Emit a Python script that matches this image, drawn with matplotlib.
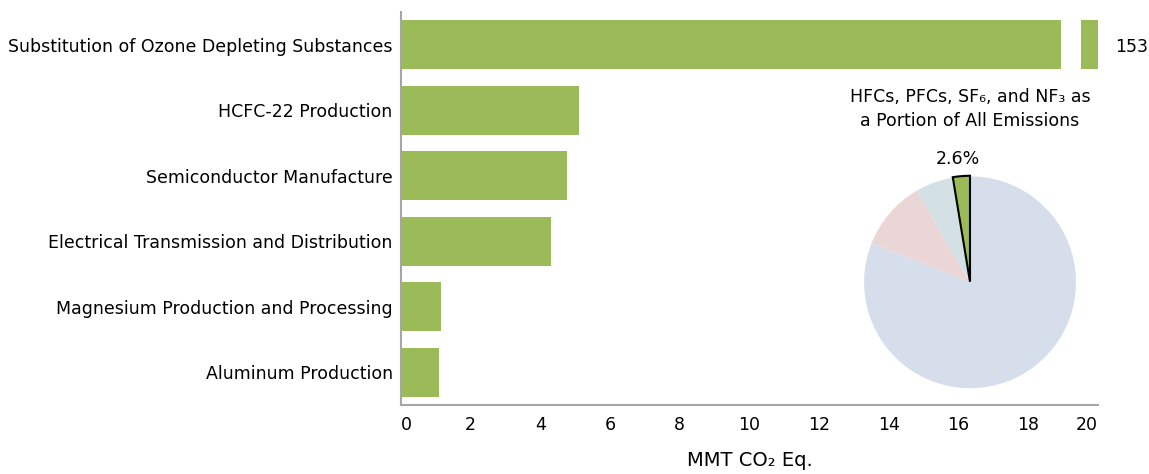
#!/usr/bin/env python
#
# bar chart of fluorinated gas sources with a pie inset
#----------------------------------------------------------------
import matplotlib
matplotlib.use('Agg')
#----------------------------------------------------------------
import numpy as np
import matplotlib.pyplot as plt
from matplotlib.patches import Rectangle

# bar data (MMT CO2 Eq.)
sources = ['Substitution of Ozone Depleting Substances',
           'HCFC-22 Production',
           'Semiconductor Manufacture',
           'Electrical Transmission and Distribution',
           'Magnesium Production and Processing',
           'Aluminum Production']
values = [153, 5.1, 4.75, 4.3, 1.15, 1.1]

# pie data (percent of all emissions)
pielabels = ['HFCs, PFCs, SF6, NF3', 'N2O', 'CH4', 'CO2']
pievalues = [2.6, 5.8, 10.6, 81.0]
piecolors = ['#9bbb59', '#d3e1e5', '#ead6d6', '#d5deea']

xmax = 20
xticks = list(range(0, 22, 2))
green = '#9bbb59'
spinecol = '#a6a6a6'
fsize = 12.5

fig = plt.figure(figsize=(11.49, 4.74), dpi=100)
ax = fig.add_axes([0.349, 0.1456, 0.6065, 0.8294])

ypos = np.arange(len(sources))
# clip bars at the axis limit, the big one gets a break drawn on it
ax.barh(ypos, [min(v, xmax) for v in values], height=0.75, color=green, zorder=2)
ax.set_xlim(0, xmax)
ax.set_ylim(len(sources) - 0.5, -0.5)

# axis break on the bars that run past the limit
for i in range(len(values)):
    if values[i] > xmax:
        ax.add_patch(Rectangle((18.95, i - 0.45), 0.57, 0.9, facecolor='white',
                               edgecolor='none', zorder=3))
        ax.annotate(str(values[i]), xy=(1.0, i), xycoords=('axes fraction', 'data'),
                    xytext=(24, -2), textcoords='offset points', ha='center',
                    va='center', fontsize=fsize)

ax.set_yticks(ypos)
ax.set_yticklabels(sources, fontsize=fsize)
ax.set_xticks(xticks)
ax.set_xticklabels([str(t) for t in xticks], fontsize=fsize)
xt = ax.get_xticklabels()
xt[0].set_ha('left')
xt[-1].set_ha('right')
ax.tick_params(axis='both', length=0)
ax.tick_params(axis='x', pad=8)
ax.tick_params(axis='y', pad=6)
ax.set_xlabel('MMT CO\u2082 Eq.', fontsize=fsize + 1.5, labelpad=12)

for s in ['top', 'right']:
    ax.spines[s].set_visible(False)
for s in ['left', 'bottom']:
    ax.spines[s].set_color(spinecol)
    ax.spines[s].set_linewidth(1.5)

#----------------------------------------------------------------
# pie inset
#----------------------------------------------------------------
pax = fig.add_axes([0.752, 0.181, 0.1845, 0.447])
wedges, _ = pax.pie(pievalues, colors=piecolors, startangle=90,
                    counterclock=True, explode=[0.005, 0, 0, 0], radius=1.0)
wedges[0].set_edgecolor('black')
wedges[0].set_linewidth(1.5)
wedges[0].set_zorder(3)
pax.set_xlim(-1.0, 1.0)
pax.set_ylim(-1.0, 1.0)
pax.set_aspect('equal')
pax.axis('off')

fig.text(970 / 1149, 1 - 109 / 474,
         'HFCs, PFCs, SF\u2086, and NF\u2083 as\na Portion of All Emissions',
         ha='center', va='center', fontsize=fsize, linespacing=1.5)
fig.text(958 / 1149, 1 - 159 / 474, '%.1f%%' % pievalues[0], ha='center',
         va='center', fontsize=fsize)

plt.savefig('out.png', dpi=100)
